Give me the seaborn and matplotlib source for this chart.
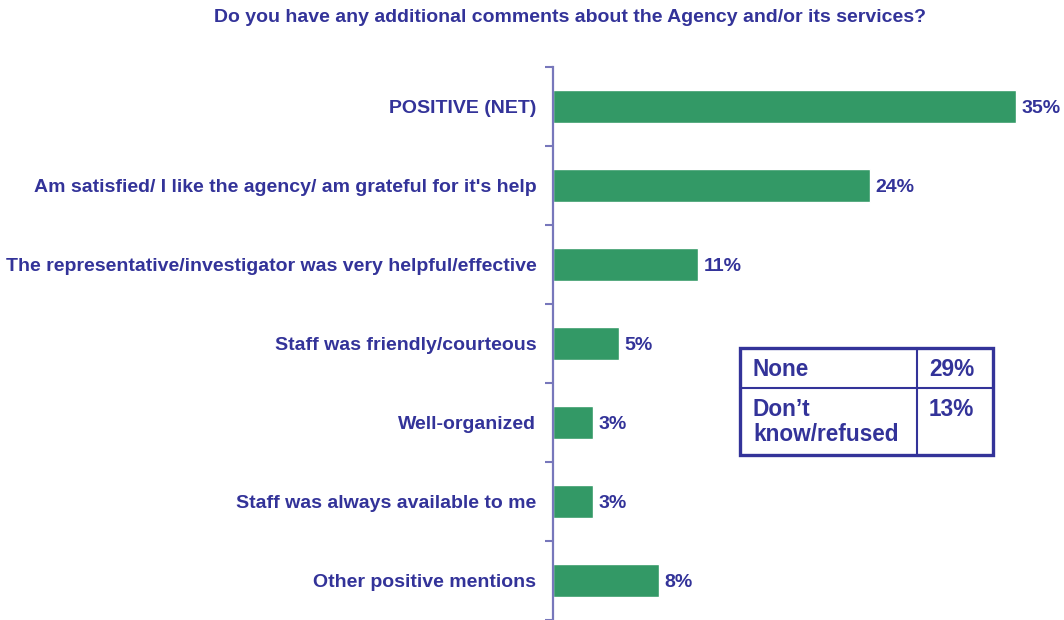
import matplotlib
matplotlib.use("Agg")
import matplotlib.pyplot as plt
import seaborn as sns
import pandas as pd
import numpy as np
from matplotlib.patches import Rectangle
from matplotlib.lines import Line2D

categories = [
    "POSITIVE (NET)",
    "Am satisfied/ I like the agency/ am grateful for it's help",
    "The representative/investigator was very helpful/effective",
    "Staff was friendly/courteous",
    "Well-organized",
    "Staff was always available to me",
    "Other positive mentions",
]
values = [35, 24, 11, 5, 3, 3, 8]

table_labels = ["None", "Don\u2019t\nknow/refused"]
table_values = [29, 13]

title = "Do you have any additional comments about the Agency and/or its services?"

TEXT = "#333399"
BAR = "#339966"
AXIS = "#7777bb"
FONT = ["Liberation Sans", "DejaVu Sans"]

sns.set_style("white")
plt.rcParams["font.family"] = FONT

W, H = 1064, 620
fig = plt.figure(figsize=(W / 100, H / 100), dpi=100)

x0 = 553 / W
px_per_pct = 13.22
xmax = 38
ax = fig.add_axes([x0, 0.0, xmax * px_per_pct / W, 1 - 67 / H])

df = pd.DataFrame({"item": categories, "pct": values})
sns.barplot(data=df, y="item", x="pct", orient="h", color=BAR,
            saturation=1, width=0.42, ax=ax)

ax.set_xlim(0, xmax)
ax.set_ylim(len(categories) - 0.5, -0.5)
ax.set_xlabel("")
ax.set_ylabel("")
ax.set_xticks([])

for s in ["top", "right", "bottom"]:
    ax.spines[s].set_visible(False)
ax.spines["left"].set_color(AXIS)
ax.spines["left"].set_linewidth(1.6)

ax.set_yticks(np.arange(-0.5, len(categories) + 0.5, 1), minor=True)
ax.tick_params(axis="y", which="minor", length=6, width=1.5,
               color=AXIS, left=True)
ax.tick_params(axis="y", which="major", length=0, pad=12)
for lbl in ax.get_yticklabels():
    lbl.set_fontweight("bold")
    lbl.set_fontsize(14)
    lbl.set_color(TEXT)

for c in ax.containers:
    texts = ax.bar_label(c, labels=[f"{v:g}%" for v in values], padding=4,
                         fontsize=14, fontweight="bold", color=TEXT)
    for t in texts:
        t.set_va("center_baseline")

fig.text(570 / W, 1 - 17 / H, title, ha="center", va="center",
         fontsize=14, fontweight="bold", color=TEXT)

# Summary box for the remaining answers
def fx(px):
    return px / W


def fy(py):
    return 1 - py / H


L, R, T, B = 740, 993, 348, 455
col, row = 917, 388
fig.patches.append(Rectangle((fx(L), fy(B)), fx(R) - fx(L), fy(T) - fy(B),
                             transform=fig.transFigure, fill=False,
                             edgecolor=TEXT, linewidth=2.4))
fig.lines.append(Line2D([fx(col), fx(col)], [fy(T), fy(B)],
                        transform=fig.transFigure, color=TEXT, linewidth=1.5))
fig.lines.append(Line2D([fx(L), fx(R)], [fy(row), fy(row)],
                        transform=fig.transFigure, color=TEXT, linewidth=1.5))

label_centers = [370, 422]
value_centers = [370, 410]
for lc, vc, lab, val in zip(label_centers, value_centers, table_labels, table_values):
    fig.text(fx(753), fy(lc), lab, ha="left", va="center", fontsize=16.3,
             fontweight="bold", color=TEXT, linespacing=1.1)
    fig.text(fx(929), fy(vc), f"{val}%", ha="left", va="center",
             fontsize=16.3, fontweight="bold", color=TEXT)

fig.savefig("out.png", dpi=100)
